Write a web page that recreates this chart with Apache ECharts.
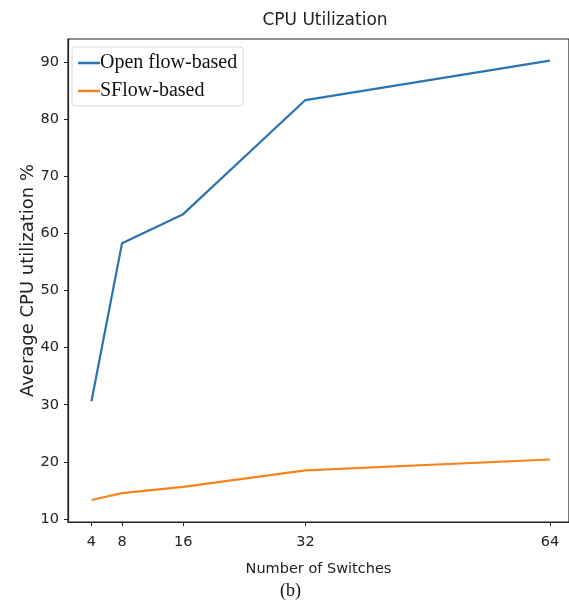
<!DOCTYPE html>
<html><head><meta charset="utf-8">
<script src="https://cdn.jsdelivr.net/npm/echarts@6/dist/echarts.min.js"></script>
<style>html,body{margin:0;padding:0;background:#fff}#c{width:569px;height:606px}</style>
</head><body><div id="c"></div>
<script>
const switches = [4, 8, 16, 32, 64];
const openflow = [30.6, 58.3, 63.4, 83.4, 90.3];
const sflow = [13.3, 14.5, 15.6, 18.5, 20.4];
const xTicks = [4, 8, 16, 32, 64];
const yTicks = [10, 20, 30, 40, 50, 60, 70, 80, 90];

const chart = echarts.init(document.getElementById('c'));
const tickFont = {fontFamily: 'DejaVu Sans', fontSize: 14.5, color: '#222'};
chart.setOption({
  animation: false,
  title: {text: 'CPU Utilization', left: 320, top: 7, textAlign: 'center',
    textStyle: {fontFamily: 'DejaVu Sans', fontSize: 17, fontWeight: 'normal', color: '#222'}},
  grid: {left: 68, top: 39, right: -2, bottom: 84, show: true, borderColor: '#222', borderWidth: 1.2, containLabel: false},
  legend: {orient: 'vertical', left: 72, top: 47, padding: [6, 6, 5, 6], itemGap: 8,
    backgroundColor: '#fff', borderColor: '#d8d8d8', borderWidth: 1, borderRadius: 3,
    icon: 'rect', itemWidth: 22, itemHeight: 2.5,
    textStyle: {fontFamily: 'Liberation Serif', fontSize: 20, color: '#111', padding: [0, 0, 0, -5]},
    data: ['Open flow-based', 'SFlow-based']},
  xAxis: {type: 'value', min: 0.93, max: 66.5, name: 'Number of Switches', nameLocation: 'middle', nameGap: 40,
    nameMoveOverlap: false,
    nameTextStyle: {fontFamily: 'DejaVu Sans', fontSize: 14.5, color: '#222'},
    splitLine: {show: false},
    axisLine: {show: true, lineStyle: {color: '#222', width: 1.2}},
    axisTick: {show: true, length: 4, customValues: xTicks, lineStyle: {color: '#222'}},
    axisLabel: {customValues: xTicks, margin: 13, ...tickFont}},
  yAxis: {type: 'value', min: 9.45, max: 94.1, name: 'Average CPU utilization %', nameLocation: 'middle', nameGap: 31,
    nameMoveOverlap: false,
    nameTextStyle: {fontFamily: 'DejaVu Sans', fontSize: 18, color: '#222'},
    splitLine: {show: false},
    axisLine: {show: true, lineStyle: {color: '#222', width: 1.2}},
    axisTick: {show: true, length: 4, customValues: yTicks, lineStyle: {color: '#222'}},
    axisLabel: {customValues: yTicks, margin: 9, ...tickFont}},
  series: [
    {name: 'Open flow-based', type: 'line', data: switches.map((s, i) => [s, openflow[i]]),
     showSymbol: false, symbol: 'none', color: '#2a74b0', lineStyle: {width: 2.2, color: '#2a74b0'}},
    {name: 'SFlow-based', type: 'line', data: switches.map((s, i) => [s, sflow[i]]),
     showSymbol: false, symbol: 'none', color: '#f5841f', lineStyle: {width: 2.2, color: '#f5841f'}}
  ],
  graphic: [{type: 'text', left: 280, top: 582, style: {text: '(b)', fontFamily: 'Liberation Serif', fontSize: 18, fill: '#111'}}]
});
</script></body></html>
